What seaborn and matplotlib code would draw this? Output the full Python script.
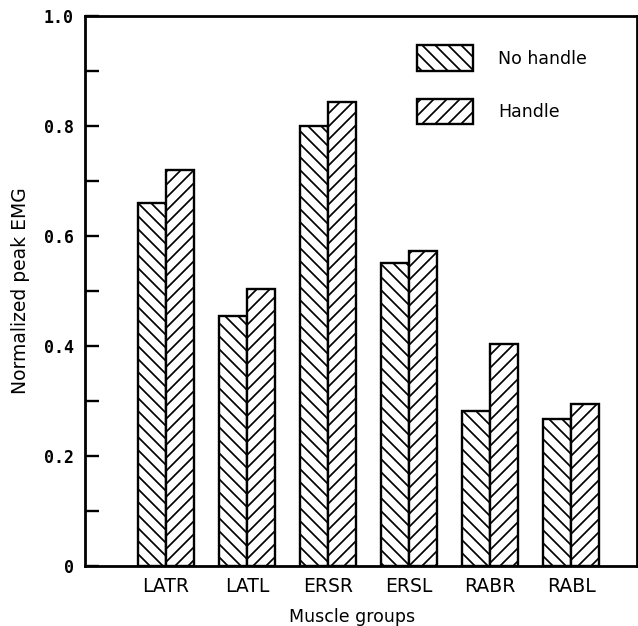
import matplotlib
matplotlib.use("Agg")
import matplotlib.pyplot as plt
import seaborn as sns
import pandas as pd
from matplotlib.ticker import FixedLocator

categories = ["LATR", "LATL", "ERSR", "ERSL", "RABR", "RABL"]
no_handle = [0.66, 0.454, 0.80, 0.551, 0.281, 0.268]
handle = [0.72, 0.504, 0.843, 0.573, 0.404, 0.295]
series = ["No handle", "Handle"]
yticks = [0, 0.2, 0.4, 0.6, 0.8, 1.0]
ytick_labels = ["0", "0.2", "0.4", "0.6", "0.8", "1.0"]
yminor = [0.1, 0.3, 0.5, 0.7, 0.9]

df = pd.DataFrame({
    "Muscle": categories * 2,
    "Condition": [series[0]] * len(categories) + [series[1]] * len(categories),
    "EMG": no_handle + handle,
})

# render at dpi 78 so that the hatch spacing matches the reference (~13 px);
# point sizes are scaled by S so pixel sizes stay as intended
DPI = 78
S = 100 / DPI

sns.set_style("white")
plt.rcParams["font.family"] = ["DejaVu Sans"]
plt.rcParams["hatch.linewidth"] = 1.25 * S
plt.rcParams["hatch.color"] = "black"
for k in ["text.color", "axes.labelcolor", "xtick.color", "ytick.color", "axes.edgecolor"]:
    plt.rcParams[k] = "black"

fig = plt.figure(figsize=(638 / DPI, 626 / DPI), dpi=DPI)
ax = fig.add_axes([85 / 638, 60 / 626, 552 / 638, 550 / 626])

sns.barplot(data=df, x="Muscle", y="EMG", hue="Condition", order=categories,
            hue_order=series, palette=["white", "white"], width=0.69,
            edgecolor="black", linewidth=1.7 * S, ax=ax, legend=True)

hatches = ["\\\\", "//"]
for cont, h in zip(ax.containers, hatches):
    for p in cont:
        p.set_hatch(h)
        p.set_facecolor("white")
        p.set_edgecolor("black")

ax.set_xlim(-1.0, 5.81)
ax.set_ylim(0, 1.0)
ax.yaxis.set_major_locator(FixedLocator(yticks))
ax.set_yticklabels(ytick_labels, fontfamily="DejaVu Sans Mono", fontweight="bold", fontsize=12 * S)
ax.yaxis.set_minor_locator(FixedLocator(yminor))
ax.tick_params(axis="y", which="both", direction="in", length=10 * S, width=1.7 * S,
               left=True, pad=8 * S)
ax.tick_params(axis="x", length=0, pad=8 * S, labelsize=13.5 * S)

for s in ax.spines.values():
    s.set_linewidth(2.0 * S)
    s.set_color("black")

ax.set_xlabel("Muscle groups", fontsize=12.5 * S)
ax.xaxis.set_label_coords(0.484, -0.0764)
ax.set_ylabel("Normalized peak EMG", fontsize=13.5 * S, labelpad=10 * S)

handles, labels = ax.get_legend_handles_labels()
for hd, h in zip(handles, hatches):
    hd.set_hatch(h)
    hd.set_facecolor("white")
    hd.set_edgecolor("black")
    hd.set_linewidth(1.7 * S)
ax.legend(handles, labels, loc="upper left", bbox_to_anchor=(0.601, 0.947),
          frameon=False, fontsize=12.5 * S, handlelength=3.23, handleheight=1.9,
          labelspacing=1.6, handletextpad=1.45, borderpad=0, borderaxespad=0)

fig.savefig("out.png", dpi=DPI)
